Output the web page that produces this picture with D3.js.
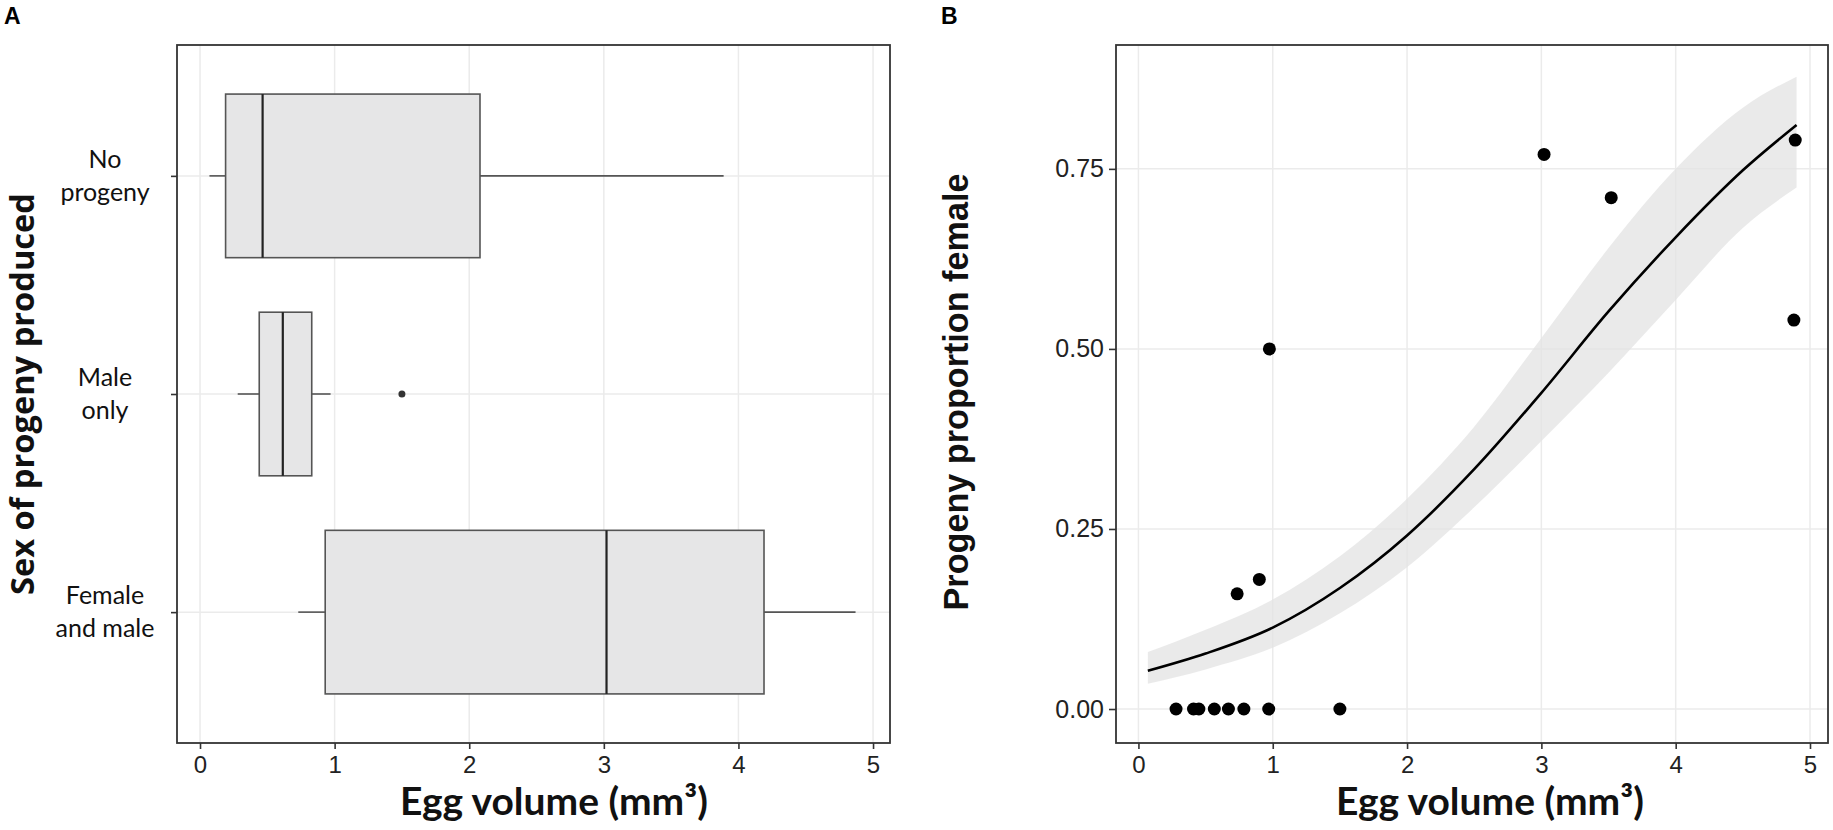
<!DOCTYPE html>
<html lang="en">
<head>
  <meta charset="UTF-8">
  <title>Egg volume and progeny sex</title>
  <style>
    body { margin: 0; background: #fff; }
    svg { display: block; }
  </style>
</head>
<body>
  <div id="chart"></div>

  <script src="https://d3js.org/d3.v7.min.js"></script>
  <script>

    // panel A: boxplot summaries
    const cats = ["No progeny", "Male only", "Female and male"];
    const catLines = [["No", "progeny"], ["Male", "only"], ["Female", "and male"]];
    const whiskLo = [0.07, 0.28, 0.73];
    const q1 = [0.19, 0.44, 0.93];
    const med = [0.465, 0.615, 3.02];
    const q3 = [2.08, 0.83, 4.19];
    const whiskHi = [3.89, 0.97, 4.87];
    const outliers = [[], [1.5], []];

    // panel B: observed points
    const eggVol = [0.28, 0.41, 0.45, 0.565, 0.67, 0.785, 0.97, 1.5, 0.735, 0.9, 0.975, 3.02, 3.52, 4.89, 4.88];
    const propFemale = [0, 0, 0, 0, 0, 0, 0, 0, 0.16, 0.18, 0.5, 0.77, 0.71, 0.79, 0.54];

    // panel B: fitted curve and its band, read at these x positions
    const fitX = [0.07, 0.5, 1, 1.5, 2, 2.5, 3, 3.5, 4, 4.5, 4.9];
    const fitY = [0.053, 0.077, 0.113, 0.168, 0.241, 0.333, 0.439, 0.552, 0.655, 0.748, 0.811];
    const fitLo = [0.035, 0.055, 0.085, 0.133, 0.197, 0.28, 0.372, 0.467, 0.568, 0.668, 0.724];
    const fitHi = [0.079, 0.11, 0.152, 0.212, 0.292, 0.392, 0.515, 0.64, 0.75, 0.835, 0.878];

    const xTicks = [0, 1, 2, 3, 4, 5];
    const yTicksB = [0, 0.25, 0.5, 0.75];

    const width = 1833, height = 830;
    const yTop = 45, yBot = 743;
    const pa = {left: 177, right: 890};
    const pb = {left: 1116, right: 1828};

    const gridCol = "#ebebeb", frameCol = "#333";

    const svg = d3.select("#chart")
      .append("svg")
      .attr("width", width)
      .attr("height", height)
      .attr("viewBox", [0, 0, width, height]);

    // stretch a text to a given length by changing its font size
    function fitWidth(text, w) {
      const len = text.node().getComputedTextLength();
      const fs = parseFloat(text.attr("font-size"));
      text.attr("font-size", fs * w / len);
    }

    // ---------- panel A ----------
    const xA = d3.scaleLinear([-0.171, 5.126], [pa.left, pa.right]);
    const yA = d3.scalePoint(cats, [yTop, yBot]).padding(0.6);
    const boxH = yA.step() * 0.75;

    const gA = svg.append("g");

    gA.append("g")
      .selectAll("line")
      .data(xTicks)
      .join("line")
      .attr("x1", d => xA(d)).attr("x2", d => xA(d))
      .attr("y1", yTop).attr("y2", yBot)
      .attr("stroke", gridCol).attr("stroke-width", 1.5);

    gA.append("g")
      .selectAll("line")
      .data(cats)
      .join("line")
      .attr("x1", pa.left).attr("x2", pa.right)
      .attr("y1", d => yA(d)).attr("y2", d => yA(d))
      .attr("stroke", gridCol).attr("stroke-width", 1.5);

    const box = gA.selectAll(".box")
      .data(cats)
      .join("g")
      .attr("class", "box");

    box.append("line")
      .attr("x1", (d, i) => xA(whiskLo[i])).attr("x2", (d, i) => xA(q1[i]))
      .attr("y1", d => yA(d)).attr("y2", d => yA(d))
      .attr("stroke", "#555").attr("stroke-width", 1.6);

    box.append("line")
      .attr("x1", (d, i) => xA(q3[i])).attr("x2", (d, i) => xA(whiskHi[i]))
      .attr("y1", d => yA(d)).attr("y2", d => yA(d))
      .attr("stroke", "#555").attr("stroke-width", 1.6);

    box.append("rect")
      .attr("x", (d, i) => xA(q1[i]))
      .attr("width", (d, i) => xA(q3[i]) - xA(q1[i]))
      .attr("y", d => yA(d) - boxH / 2)
      .attr("height", boxH)
      .attr("fill", "#e6e6e7")
      .attr("stroke", "#555").attr("stroke-width", 1.6);

    box.append("line")
      .attr("x1", (d, i) => xA(med[i])).attr("x2", (d, i) => xA(med[i]))
      .attr("y1", d => yA(d) - boxH / 2).attr("y2", d => yA(d) + boxH / 2)
      .attr("stroke", "#222").attr("stroke-width", 2.2);

    box.selectAll("circle")
      .data((d, i) => outliers[i].map(v => ({v, c: d})))
      .join("circle")
      .attr("cx", d => xA(d.v))
      .attr("cy", d => yA(d.c))
      .attr("r", 3.5)
      .attr("fill", "#333");

    gA.append("rect")
      .attr("x", pa.left).attr("y", yTop)
      .attr("width", pa.right - pa.left).attr("height", yBot - yTop)
      .attr("fill", "none").attr("stroke", frameCol).attr("stroke-width", 1.8);

    const axA = gA.append("g")
      .attr("transform", `translate(0,${yBot})`)
      .call(d3.axisBottom(xA).tickValues(xTicks).tickFormat(d3.format("d")).tickSize(6).tickPadding(7));

    const axAy = gA.append("g")
      .attr("transform", `translate(${pa.left},0)`)
      .call(d3.axisLeft(yA).tickSize(6).tickFormat(""));

    [axA, axAy].forEach(ax => {
      ax.select(".domain").remove();
      ax.selectAll(".tick line").attr("stroke", frameCol).attr("stroke-width", 1.6);
      ax.selectAll("text")
        .attr("font-family", "'Liberation Sans', Arial, sans-serif")
        .attr("font-size", 24)
        .attr("fill", "#222");
    });

    // two-line category labels
    gA.append("g")
      .selectAll("text")
      .data(cats)
      .join("text")
      .attr("text-anchor", "middle")
      .attr("font-family", "Lato, sans-serif")
      .attr("font-size", 25)
      .attr("fill", "#111")
      .each(function(d, i) {
        d3.select(this).selectAll("tspan")
          .data(catLines[i])
          .join("tspan")
          .attr("x", 105)
          .attr("y", (t, j) => yA(d) + (j === 0 ? -8 : 25))
          .text(t => t);
      });

    const titleAy = gA.append("text")
      .attr("transform", `translate(34,${(yTop + yBot) / 2}) rotate(-90)`)
      .attr("text-anchor", "middle")
      .attr("font-family", "'Open Sans', sans-serif")
      .attr("font-weight", 700)
      .attr("font-size", 33)
      .attr("fill", "#111")
      .text("Sex of progeny produced");
    fitWidth(titleAy, 402);

    const titleAx = gA.append("text")
      .attr("x", 554).attr("y", 815)
      .attr("text-anchor", "middle")
      .attr("font-family", "Lato, sans-serif")
      .attr("font-weight", 700)
      .attr("font-size", 36)
      .attr("fill", "#111")
      .text("Egg volume (mm³)");
    fitWidth(titleAx, 308);

    gA.append("text")
      .attr("x", 4).attr("y", 24)
      .attr("font-family", "'Liberation Sans', Arial, sans-serif")
      .attr("font-weight", 700)
      .attr("font-size", 23)
      .text("A");

    // ---------- panel B ----------
    const xB = d3.scaleLinear([-0.167, 5.134], [pb.left, pb.right]);
    const yB = d3.scaleLinear([-0.0458, 0.922], [yBot - 1, yTop]);

    const gB = svg.append("g");

    gB.append("g")
      .selectAll("line")
      .data(xTicks)
      .join("line")
      .attr("x1", d => xB(d)).attr("x2", d => xB(d))
      .attr("y1", yTop).attr("y2", yBot)
      .attr("stroke", gridCol).attr("stroke-width", 1.5);

    gB.append("g")
      .selectAll("line")
      .data(yTicksB)
      .join("line")
      .attr("x1", pb.left).attr("x2", pb.right)
      .attr("y1", d => yB(d)).attr("y2", d => yB(d))
      .attr("stroke", gridCol).attr("stroke-width", 1.5);

    const fit = fitX.map((x, i) => ({x, y: fitY[i], lo: fitLo[i], hi: fitHi[i]}));

    gB.append("path")
      .datum(fit)
      .attr("fill", "#e3e3e3")
      .attr("fill-opacity", 0.75)
      .attr("d", d3.area()
        .x(d => xB(d.x))
        .y0(d => yB(d.lo))
        .y1(d => yB(d.hi))
        .curve(d3.curveMonotoneX));

    gB.append("path")
      .datum(fit)
      .attr("fill", "none")
      .attr("stroke", "#000")
      .attr("stroke-width", 2.6)
      .attr("d", d3.line()
        .x(d => xB(d.x))
        .y(d => yB(d.y))
        .curve(d3.curveMonotoneX));

    gB.append("g")
      .selectAll("circle")
      .data(eggVol)
      .join("circle")
      .attr("cx", d => xB(d))
      .attr("cy", (d, i) => yB(propFemale[i]))
      .attr("r", 6.5)
      .attr("fill", "#000");

    gB.append("rect")
      .attr("x", pb.left).attr("y", yTop)
      .attr("width", pb.right - pb.left).attr("height", yBot - yTop)
      .attr("fill", "none").attr("stroke", frameCol).attr("stroke-width", 1.8);

    const axB = gB.append("g")
      .attr("transform", `translate(0,${yBot})`)
      .call(d3.axisBottom(xB).tickValues(xTicks).tickFormat(d3.format("d")).tickSize(6).tickPadding(7));

    const axBy = gB.append("g")
      .attr("transform", `translate(${pb.left},0)`)
      .call(d3.axisLeft(yB).tickValues(yTicksB).tickFormat(d3.format(".2f")).tickSize(7).tickPadding(5));

    [axB, axBy].forEach(ax => {
      ax.select(".domain").remove();
      ax.selectAll(".tick line").attr("stroke", frameCol).attr("stroke-width", 1.6);
      ax.selectAll("text")
        .attr("font-family", "'Liberation Sans', Arial, sans-serif")
        .attr("font-size", 25)
        .attr("fill", "#222");
    });
    axB.selectAll("text").attr("font-size", 24);

    const titleBy = gB.append("text")
      .attr("transform", `translate(968,${(yTop + yBot) / 2 - 2}) rotate(-90)`)
      .attr("text-anchor", "middle")
      .attr("font-family", "'Liberation Sans', Arial, sans-serif")
      .attr("font-weight", 700)
      .attr("font-size", 34)
      .attr("fill", "#111")
      .text("Progeny proportion female");
    fitWidth(titleBy, 437);

    const titleBx = gB.append("text")
      .attr("x", 1490).attr("y", 815)
      .attr("text-anchor", "middle")
      .attr("font-family", "Lato, sans-serif")
      .attr("font-weight", 700)
      .attr("font-size", 36)
      .attr("fill", "#111")
      .text("Egg volume (mm³)");
    fitWidth(titleBx, 308);

    gB.append("text")
      .attr("x", 941).attr("y", 24)
      .attr("font-family", "'Liberation Sans', Arial, sans-serif")
      .attr("font-weight", 700)
      .attr("font-size", 23)
      .text("B");

  </script>
</body>
</html>
